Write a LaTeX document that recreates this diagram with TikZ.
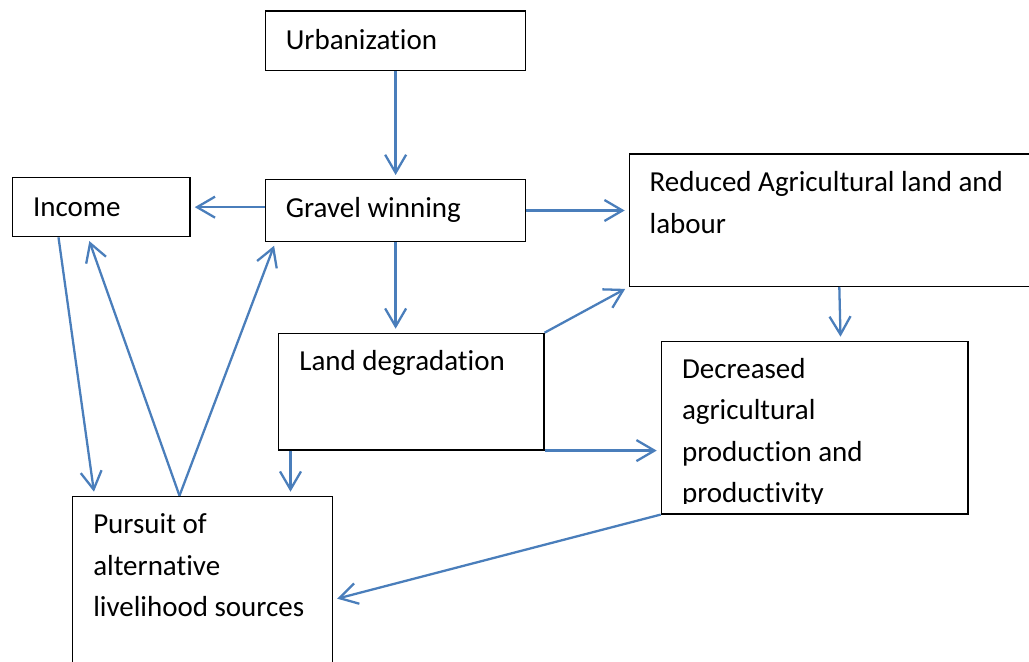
\documentclass[tikz,border=0pt]{standalone}
\usepackage{fontspec}
\setmainfont[Ligatures=NoCommon]{Carlito}
\usetikzlibrary{arrows.meta,calc}
\definecolor{flowblue}{HTML}{4A7EBB}

\begin{document}
\begin{tikzpicture}[x=0.02cm, y=-0.02cm, >={Straight Barb[length=3.6mm,width=4.2mm]},
  stage/.style={draw=black,line width=0.75pt,anchor=north west,inner sep=0pt},
  caption/.style={anchor=base west,inner sep=0pt,align=left,font=\fontsize{16.5}{23.6}\selectfont},
  flow/.style={->,draw=flowblue,line width=1.3pt,shorten >=0.08cm}]
  \clip (0,0) rectangle (1029,662);
  % boxes
  \node[stage,minimum width=5.2cm,minimum height=1.19cm] (urb) at (265,10.5) {};
  \node[stage,minimum width=3.55cm,minimum height=1.18cm] (income) at (12,177) {};
  \node[stage,minimum width=5.2cm,minimum height=1.234cm] (gravel) at (265,179) {};
  \node[stage,minimum width=8.4cm,minimum height=2.648cm] (reduced) at (628.7,153.3) {};
  \node[stage,minimum width=5.306cm,minimum height=2.332cm] (landdeg) at (278,332.7) {};
  \node[stage,minimum width=6.132cm,minimum height=3.452cm] (decr) at (660.7,340.7) {};
  \node[stage,minimum width=5.2cm,minimum height=4cm] (pursuit) at (72,495.7) {};
  % texts (multi-line ones sit on the baseline of their last line)
  \node[caption] (urbT) at (285.5,49.3) {Urbanization};
  \node[caption] (incomeT) at (32.7,216.7) {Income};
  \node[caption] (gravelT) at (285.5,218) {Gravel winning};
  \node[caption] (reducedT) at (649.3,233.3) {Reduced Agricultural land and\\labour};
  \node[caption] (landdegT) at (299,371) {Land degradation};
  \begin{scope}
    \clip (decr.north west) rectangle ([yshift=0.226cm]decr.south east);
    \node[caption] (decrT) at (681.7,502.7) {Decreased\\agricultural\\production and\\productivity};
  \end{scope}
  \node[caption] (pursuitT) at (92.9,616.7) {Pursuit of\\alternative\\livelihood sources};
  % links
  \draw[flow] (urb.south) -- (gravel.north);
  \draw[flow] (gravel.west |- income.east) -- (income.east);
  \draw[flow] (gravel.east) -- (gravel.east -| reduced.west);
  \draw[flow] (gravel.south) -- (gravel.south |- landdeg.north);
  \draw[flow] (reduced.south) -- ([xshift=0.52cm]decr.north);
  \draw[flow] (landdeg.north east) -- (reduced.south west);
  \draw[flow] (landdeg.south east) -- (landdeg.south east -| decr.west);
  \coordinate (ldfoot) at ([xshift=0.25cm]landdeg.south west);
  \draw[flow] (ldfoot) -- (ldfoot |- pursuit.north);
  \draw[flow] ([xshift=0.93cm]income.south west) -- ([xshift=0.45cm]pursuit.north west);
  \draw[flow] ([xshift=2.15cm]pursuit.north west) -- ([xshift=1.52cm]income.south west);
  \draw[flow] ([xshift=2.15cm]pursuit.north west) -- ([xshift=0.21cm]gravel.south west);
  \draw[flow] (decr.south west) -- ([yshift=-2.08cm]pursuit.north east);
\end{tikzpicture}
\end{document}
